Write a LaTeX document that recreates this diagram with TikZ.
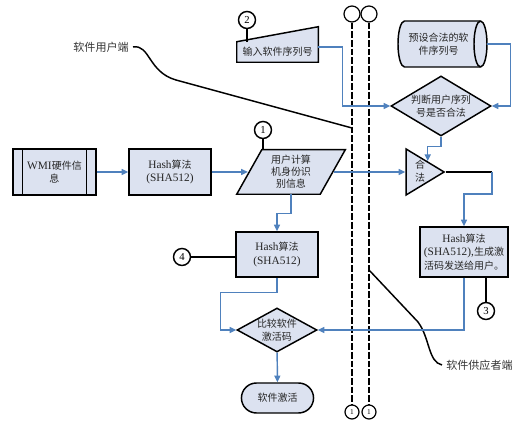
\documentclass[tikz,border=0pt]{standalone}
\usepackage{fontspec}
\setmainfont{Liberation Serif}
\newfontfamily\cjk{Noto Sans CJK SC}
\usepackage{tikz}
\usetikzlibrary{shapes.geometric}
\usetikzlibrary{shapes.misc}
\usetikzlibrary{arrows.meta}
\usetikzlibrary{calc}
\definecolor{boxfill}{RGB}{220,226,240}
\definecolor{flowblue}{RGB}{79,129,189}
\newcommand{\flowfont}{\cjk\fontsize{7.5}{10}\selectfont}
\newcommand{\sidefont}{\cjk\fontsize{8.3}{10}\selectfont}
\newcommand{\lat}[1]{{\rmfamily\fontsize{8.5}{10}\selectfont #1}}
\newcommand{\circfont}{\fontsize{8}{9}\selectfont}
\newcommand{\smallcircfont}{\fontsize{5.5}{6}\selectfont}

\begin{document}
\begin{tikzpicture}[x=0.75pt,y=0.75pt,yscale=-1,xscale=1,
  shapeline/.style={draw=black,line width=1.1pt,fill=boxfill},
  procbox/.style={shapeline,rectangle,align=center,inner sep=1pt,font=\flowfont,text=black!85},
  txt/.style={align=center,inner sep=0pt,font=\flowfont,text=black!85},
  flow/.style={draw=flowblue,line width=1.1pt,-{Triangle[length=5pt,width=4.5pt]}},
  tie/.style={draw=black,line width=1.1pt},
  numcirc/.style={circle,draw=black,line width=1.1pt,fill=white,minimum size=12.75pt,inner sep=0pt,font=\circfont},
  endcirc/.style={circle,draw=black,line width=0.9pt,fill=white,minimum size=10.5pt,inner sep=0pt,font=\smallcircfont},
  lifeline/.style={draw=black,line width=1.3pt,dash pattern=on 5pt off 1.5pt},
  side/.style={font=\sidefont,inner sep=0pt,text=black!80}]
\useasboundingbox (0,0) rectangle (519,423);

% lifelines
\node[endcirc,minimum size=12pt] (topA) at (352,14) {};
\node[endcirc,minimum size=12pt] (topB) at (369,14) {};
\node[endcirc] (botA) at (352,412) {1};
\node[endcirc] (botB) at (369,412) {1};
\draw[lifeline] (topA) -- (botA);
\draw[lifeline] (topB) -- (botB);

\node[side,anchor=east] (userEnd) at (129,47) {软件用户端};
\coordinate (userTip) at (352,128);
\draw[tie] ([xshift=3pt]userEnd.east) .. controls (150,44) and (148,72) .. (176,80) -- (userTip);
\node[side,anchor=west] (supEnd) at (446,365) {软件供应者端};
\coordinate (supTip) at (369,270);
\draw[tie] (supTip) -- (418,322) .. controls (430,338) and (428,362) .. ([xshift=-3pt]supEnd.west);

% user side
\node[procbox,minimum width=62.25pt,minimum height=34.5pt] (wmi) at (54.5,172) {\lat{WMI}硬件信\\息};
\draw[tie] ([xshift=7.5pt]wmi.north west) -- ([xshift=7.5pt]wmi.south west);
\draw[tie] ([xshift=-7.5pt]wmi.north east) -- ([xshift=-7.5pt]wmi.south east);
\node[procbox,minimum width=61.5pt,minimum height=34.5pt] (hashA) at (170,172) {\lat{Hash}算法\\\lat{(SHA512)}};
\node[inner sep=0pt,minimum width=62.25pt,minimum height=33pt] (idinfo) at (291,172) {};
\draw[shapeline] ([xshift=-9.4pt]idinfo.south west) -- ([xshift=9.4pt]idinfo.north west) -- ([xshift=9.4pt]idinfo.north east) -- ([xshift=-9.4pt]idinfo.south east) -- cycle;
\node[txt,font=\cjk\fontsize{7.5}{9}\selectfont] (idinfoTxt) at (idinfo.center) {用户计算\\机身份识\\别信息};
\node[numcirc] (mkA) at (263,130) {1};
\draw[tie] (mkA) -- (mkA |- idinfo.north);

\node[inner sep=0pt,minimum width=60.75pt,minimum height=15pt] (serial) at (277.5,52) {};
\draw[shapeline] (serial.south west) -- (serial.north west) -- ([yshift=-11.25pt]serial.north east) -- (serial.south east) -- cycle;
\node[txt] (serialTxt) at (serial.center) {输入软件序列号};
\node[numcirc] (mkB) at (247,20) {2};
\draw[tie] (mkB) -- (mkB |- serial.north);

\node[procbox,minimum width=61.5pt,minimum height=33.75pt] (hashC) at (277,254.5) {\lat{Hash}算法\\\lat{(SHA512)}};
\node[numcirc] (mkD) at (182,257) {4};
\draw[tie] (mkD) -- (mkD -| hashC.west);
\node[shapeline,diamond,minimum width=60pt,minimum height=33pt,inner sep=0pt] (compare) at (277,330) {};
\node[txt] (compareTxt) at (compare.center) {比较软件\\激活码};
\node[shapeline,rounded rectangle,minimum width=60.75pt,minimum height=22.5pt,font=\flowfont,text=black!85] (activate) at (277.5,398) {软件激活};

% supplier side
\node[inner sep=0pt,minimum width=66.75pt,minimum height=34.5pt] (preset) at (442.5,44) {};
\draw[shapeline] (480.5,21) -- (404.5,21) .. controls (400.9,21) and (398,31.3) .. (398,44) .. controls (398,56.7) and (400.9,67) .. (404.5,67) -- (480.5,67) .. controls (484.1,67) and (487,56.7) .. (487,44) .. controls (487,31.3) and (484.1,21) .. (480.5,21) -- cycle;
\draw[tie] (480.5,21) .. controls (476.9,21) and (474,31.3) .. (474,44) .. controls (474,56.7) and (476.9,67) .. (480.5,67);
\node[txt] (presetTxt) at ([xshift=-3pt]preset.center) {预设合法的软\\件序列号};
\node[shapeline,diamond,minimum width=75pt,minimum height=45pt,inner sep=0pt] (judge) at (441,106) {};
\node[txt] (judgeTxt) at (judge.center) {判断用户序列\\号是否合法};
\node[shapeline,isosceles triangle,isosceles triangle stretches,minimum width=34.5pt,minimum height=28.5pt,inner sep=0pt,anchor=apex] (legal) at (446,172) {};
\node[txt] (legalTxt) at (420,171) {合\\法};
\node[procbox,minimum width=66pt,minimum height=37.5pt] (hashB) at (464,252) {\lat{Hash}算法\\\lat{(SHA512),}生成激\\活码发送给用户。};
\node[numcirc] (mkC) at (486,311) {3};
\draw[tie] (mkC) -- (mkC |- hashB.south);

% connectors
\draw[flow] (wmi) -- (hashA);
\draw[flow] (hashA.east) -- ([xshift=-1pt]idinfo.west);
\draw[flow] ([xshift=1pt]idinfo.east) -- (legal);
\draw[flow] (idinfo.south) -- ++(0,19) -| (hashC.north);
\draw[flow] (hashC.south) -- ++(0,15) -| ($(compare.west)+(-16,0)$) -- (compare.west);
\draw[flow] (compare) -- (activate);
\draw[flow] (hashB.south) |- (compare.east);
\draw[flow] ($(serial.east)+(0,-5)$) -- ++(24,0) |- (judge.west);
\draw[flow] (preset.east) -- ++(23,0) |- (judge.east);
\draw[flow] (judge.south) -- ++(0,10) -| ($(legal.apex)!0.45!(legal.left corner)$);
\coordinate (legalTurn) at (492,172);
\draw[tie] (legal.apex) -- (legalTurn);
\draw[flow] (legalTurn) -- ++(0,22) -| (hashB.north);
\end{tikzpicture}
\end{document}
